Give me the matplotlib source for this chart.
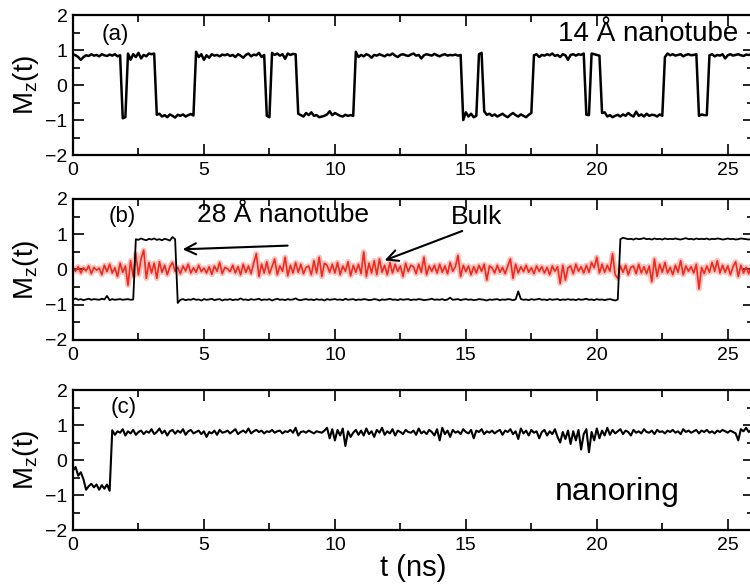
import matplotlib.pyplot as plt
from matplotlib.ticker import MultipleLocator
import numpy as np

plt.rcParams['font.family'] = ['Liberation Sans', 'DejaVu Sans']

dt = 0.1  # sampling step (ns)

# (a) 14 A nanotube, one row per ns
mz_a = [
    0.88, 0.85, 0.80, 0.72, 0.80, 0.85, 0.83, 0.88, 0.84, 0.86,
    0.82, 0.88, 0.85, 0.83, 0.87, 0.84, 0.88, 0.82, 0.85, -0.95,
    -0.92, 0.90, 0.72, 0.88, 0.80, 0.92, 0.76, 0.86, 0.82, 0.90,
    0.88, 0.90, -0.85, -0.82, -0.90, -0.86, -0.92, -0.84, -0.88, -0.93,
    -0.85, -0.88, -0.84, -0.90, -0.86, -0.83, -0.87, 0.95, 0.80, 0.88,
    0.72, 0.85, 0.78, 0.88, 0.84, 0.86, 0.82, 0.87, 0.85, 0.88,
    0.83, 0.86, 0.80, 0.88, 0.84, 0.78, 0.86, 0.90, 0.82, 0.87,
    0.85, 0.92, 0.80, 0.86, -0.88, -0.92, 0.92, 0.86, 0.90, 0.84,
    0.88, 0.75, 0.90, 0.86, 0.89, 0.88, -0.82, -0.86, -0.90, -0.80,
    -0.86, -0.78, -0.88, -0.86, -0.92, -0.90, -0.88, -0.84, -0.75, -0.86,
    -0.80, -0.84, -0.88, -0.90, -0.85, -0.88, -0.86, -0.88, 0.95, 0.80,
    0.86, 0.82, 0.88, 0.85, 0.78, 0.86, 0.84, 0.88, 0.85, 0.82,
    0.87, 0.85, 0.90, 0.84, 0.80, 0.86, 0.88, 0.85, 0.83, 0.87,
    0.90, 0.84, 0.86, 0.76, 0.85, 0.88, 0.86, 0.84, 0.89, 0.85,
    0.82, 0.86, 0.88, 0.84, 0.86, 0.85, 0.87, 0.84, 0.86, -1.00,
    -0.78, -0.90, -0.82, -0.92, -0.88, 0.88, 0.92, -0.75, -0.85, -0.82,
    -0.88, -0.84, -0.90, -0.86, -0.82, -0.88, -0.92, -0.85, -0.80, -0.86,
    -0.90, -0.84, -0.88, -0.92, -0.85, -0.80, 0.85, 0.88, 0.80, 0.86,
    0.84, 0.88, 0.85, 0.90, 0.83, 0.86, 0.80, 0.88, 0.85, 0.72,
    0.86, 0.88, 0.84, 0.88, 0.86, 0.90, -0.85, -0.86, 0.90, 0.88,
    0.86, 0.84, -0.80, -0.78, -0.90, -0.86, -0.92, -0.88, -0.85, -0.90,
    -0.84, -0.88, -0.80, -0.86, -0.90, -0.76, -0.88, -0.84, -0.90, -0.82,
    -0.88, -0.85, -0.86, -0.90, -0.84, -0.88, 0.80, 0.90, 0.85, 0.88,
    0.84, 0.86, 0.88, 0.82, 0.86, 0.88, 0.85, 0.86, 0.88, -0.88,
    -0.84, -0.86, -0.86, 0.85, 0.88, 0.82, 0.86, 0.84, 0.88, 0.76,
    0.85, 0.88, 0.84, 0.86, 0.88, 0.85, 0.83, 0.87, 0.86, 0.88,
    0.90,
]

# (b) 28 A nanotube
mz_b_tube = [
    -0.85, -0.82, -0.86, -0.84, -0.87, -0.85, -0.83, -0.86, -0.84, -0.85,
    -0.86, -0.83, -0.85, -0.75, -0.87, -0.84, -0.86, -0.85, -0.84, -0.86,
    -0.85, -0.84, -0.86, -0.85, 0.86, 0.84, 0.88, 0.85, 0.83, 0.87,
    0.85, 0.88, 0.84, 0.86, 0.83, 0.87, 0.85, 0.82, 0.92, 0.86,
    -0.95, -0.86, -0.84, -0.87, -0.85, -0.86, -0.83, -0.86, -0.85, -0.88,
    -0.84, -0.86, -0.85, -0.83, -0.87, -0.85, -0.84, -0.88, -0.85, -0.86,
    -0.84, -0.87, -0.85, -0.86, -0.82, -0.86, -0.85, -0.87, -0.84, -0.86,
    -0.85, -0.83, -0.87, -0.85, -0.86, -0.84, -0.88, -0.85, -0.83, -0.86,
    -0.85, -0.87, -0.84, -0.86, -0.85, -0.82, -0.86, -0.87, -0.85, -0.84,
    -0.86, -0.85, -0.87, -0.84, -0.86, -0.85, -0.88, -0.84, -0.86, -0.85,
    -0.84, -0.86, -0.85, -0.87, -0.83, -0.86, -0.85, -0.84, -0.87, -0.85,
    -0.86, -0.84, -0.85, -0.87, -0.86, -0.84, -0.85, -0.88, -0.85, -0.86,
    -0.85, -0.83, -0.86, -0.85, -0.87, -0.84, -0.86, -0.85, -0.84, -0.87,
    -0.85, -0.86, -0.84, -0.85, -0.87, -0.86, -0.85, -0.83, -0.86, -0.85,
    -0.86, -0.84, -0.87, -0.85, -0.80, -0.86, -0.85, -0.84, -0.87, -0.85,
    -0.84, -0.86, -0.85, -0.87, -0.86, -0.84, -0.85, -0.86, -0.88, -0.85,
    -0.86, -0.85, -0.84, -0.87, -0.85, -0.86, -0.84, -0.85, -0.87, -0.85,
    -0.62, -0.84, -0.86, -0.85, -0.87, -0.84, -0.86, -0.85, -0.83, -0.86,
    -0.85, -0.87, -0.84, -0.86, -0.85, -0.84, -0.87, -0.85, -0.86, -0.84,
    -0.86, -0.85, -0.87, -0.84, -0.86, -0.85, -0.83, -0.86, -0.85, -0.87,
    -0.84, -0.86, -0.85, -0.87, -0.85, -0.84, -0.86, -0.88, -0.85, 0.86,
    0.90, 0.88, 0.86, 0.87, 0.85, 0.88, 0.86, 0.87, 0.89, 0.86,
    0.87, 0.85, 0.88, 0.86, 0.87, 0.85, 0.88, 0.86, 0.87, 0.86,
    0.88, 0.86, 0.85, 0.87, 0.89, 0.86, 0.87, 0.85, 0.88, 0.86,
    0.87, 0.86, 0.88, 0.85, 0.87, 0.86, 0.88, 0.87, 0.85, 0.86,
    0.88, 0.86, 0.87, 0.85, 0.86, 0.88, 0.87, 0.86, 0.85, 0.87,
    0.86,
]

# (b) bulk
mz_b_bulk = [
    0.02, -0.05, 0.08, -0.10, 0.05, -0.04, 0.10, -0.12, 0.06, -0.02,
    0.04, -0.15, 0.12, -0.06, 0.15, -0.10, 0.05, -0.20, 0.18, -0.08,
    0.10, -0.45, 0.25, -0.20, 0.45, -0.15, 0.30, 0.55, -0.25, 0.20,
    -0.10, 0.18, -0.25, 0.22, -0.08, 0.12, -0.15, 0.08, 0.20, -0.05,
    0.06, -0.12, 0.10, -0.04, 0.15, -0.10, 0.05, -0.08, 0.12, -0.06,
    0.04, -0.10, 0.08, -0.14, 0.10, -0.05, 0.20, -0.12, 0.06, 0.02,
    -0.06, 0.12, -0.10, 0.08, -0.15, 0.15, -0.08, 0.10, -0.12, 0.18,
    0.45, -0.20, 0.15, -0.10, 0.22, -0.12, 0.08, 0.30, -0.15, 0.10,
    -0.05, 0.35, -0.18, 0.12, -0.10, 0.20, -0.08, 0.15, -0.12, 0.06,
    0.10, -0.15, 0.25, -0.10, 0.35, -0.20, 0.18, 0.12, -0.08, 0.15,
    -0.10, 0.20, -0.15, 0.10, -0.05, 0.22, -0.18, 0.12, -0.08, 0.15,
    -0.12, 0.50, -0.20, 0.18, -0.10, 0.25, -0.15, 0.30, -0.08, 0.12,
    -0.15, 0.20, -0.10, 0.15, -0.05, 0.10, -0.20, 0.18, -0.06, 0.12,
    0.08, -0.12, 0.15, -0.08, 0.35, -0.15, 0.10, -0.05, 0.12, -0.10,
    0.15, -0.08, 0.10, -0.12, 0.20, -0.05, 0.08, 0.40, -0.20, 0.12,
    -0.06, 0.10, -0.15, 0.08, -0.10, 0.12, -0.05, 0.15, -0.30, 0.10,
    0.05, -0.10, 0.12, -0.08, 0.06, -0.12, 0.10, 0.30, -0.25, 0.15,
    -0.10, 0.08, -0.06, 0.12, -0.08, 0.05, -0.12, 0.10, -0.05, 0.08,
    -0.10, 0.06, -0.15, 0.10, -0.05, 0.08, -0.40, 0.12, -0.30, 0.05,
    0.10, -0.12, 0.15, -0.05, 0.08, -0.10, 0.12, -0.08, 0.20, 0.05,
    0.35, -0.10, 0.15, -0.08, 0.12, -0.05, 0.45, -0.15, -0.25, 0.10,
    -0.08, 0.12, -0.15, 0.06, 0.10, -0.12, 0.15, -0.10, 0.08, -0.12,
    0.10, -0.35, 0.30, -0.20, 0.15, -0.08, 0.20, -0.10, 0.06, -0.15,
    0.12, -0.08, 0.25, -0.15, 0.10, -0.05, 0.08, -0.10, 0.15, -0.55,
    0.06, -0.12, 0.10, -0.08, 0.20, -0.05, 0.25, -0.10, 0.12, -0.08,
    0.10, -0.15, 0.08, 0.22, -0.20, 0.12, -0.10, 0.06, -0.12, 0.08,
    0.02,
]

# (c) nanoring
mz_c = [
    -0.30, -0.20, -0.45, -0.35, -0.55, -0.85, -0.75, -0.68, -0.78, -0.70,
    -0.85, -0.72, -0.82, -0.70, -0.88, 0.85, 0.72, 0.82, 0.78, 0.88,
    0.70, 0.82, 0.76, 0.86, 0.72, 0.80, 0.84, 0.74, 0.82, 0.78,
    0.88, 0.74, 0.80, 0.90, 0.76, 0.84, 0.70, 0.82, 0.86, 0.75,
    0.84, 0.78, 0.88, 0.72, 0.82, 0.86, 0.76, 0.80, 0.84, 0.74,
    0.82, 0.66, 0.80, 0.76, 0.84, 0.72, 0.86, 0.78, 0.80, 0.84,
    0.76, 0.82, 0.88, 0.74, 0.80, 0.84, 0.78, 0.90, 0.76, 0.82,
    0.86, 0.80, 0.84, 0.76, 0.82, 0.80, 0.86, 0.78, 0.82, 0.84,
    0.76, 0.82, 0.80, 0.86, 0.78, 0.92, 0.70, 0.80, 0.82, 0.78,
    0.84, 0.80, 0.76, 0.82, 0.80, 0.78, 0.84, 0.92, 0.62, 0.88,
    0.56, 0.86, 0.70, 0.90, 0.40, 0.82, 0.66, 0.78, 0.86, 0.72,
    0.84, 0.70, 0.90, 0.74, 0.82, 0.66, 0.86, 0.78, 0.92, 0.72,
    0.82, 0.76, 0.88, 0.70, 0.84, 0.80, 0.74, 0.86, 0.80, 0.78,
    0.84, 0.72, 0.90, 0.76, 0.82, 0.74, 0.86, 0.80, 0.70, 0.88,
    0.56, 0.92, 0.74, 0.84, 0.66, 0.86, 0.78, 0.82, 0.74, 0.88,
    0.80, 0.76, 0.86, 0.62, 0.84, 0.80, 0.88, 0.74, 0.82, 0.78,
    0.84, 0.76, 0.82, 0.86, 0.72, 0.84, 0.80, 0.88, 0.74, 0.82,
    0.60, 0.90, 0.76, 0.84, 0.70, 0.86, 0.78, 0.82, 0.62, 0.80,
    0.86, 0.70, 0.82, 0.74, 0.88, 0.66, 0.50, 0.80, 0.60, 0.84,
    0.46, 0.82, 0.56, 0.86, 0.30, 0.74, 0.88, 0.22, 0.80, 0.56,
    0.90, 0.62, 0.84, 0.70, 0.92, 0.72, 0.86, 0.76, 0.82, 0.88,
    0.74, 0.84, 0.80, 0.70, 0.86, 0.78, 0.82, 0.76, 0.88, 0.80,
    0.78, 0.84, 0.74, 0.86, 0.80, 0.82, 0.76, 0.84, 0.80, 0.86,
    0.78, 0.82, 0.74, 0.88, 0.80, 0.84, 0.78, 0.82, 0.86, 0.76,
    0.84, 0.80, 0.86, 0.78, 0.82, 0.76, 0.84, 0.80, 0.86, 0.82,
    0.78, 0.84, 0.80, 0.76, 0.56, 0.88, 0.82, 0.92, 0.80, 0.86,
    0.84,
]

def times(vals):
    return np.arange(len(vals)) * dt

fig = plt.figure(figsize=(7.5, 5.87), dpi=100)
# [left, bottom, width, height]; right spine sits just past the canvas edge
ax_a = fig.add_axes([0.0973, 0.7359, 0.908, 0.2385])
ax_b = fig.add_axes([0.0973, 0.4208, 0.908, 0.2402])
ax_c = fig.add_axes([0.0973, 0.0971, 0.908, 0.2385])

for ax in (ax_a, ax_b, ax_c):
    ax.set_xlim(0, 26)
    ax.set_ylim(-2, 2)
    ax.xaxis.set_major_locator(MultipleLocator(5))
    ax.xaxis.set_minor_locator(MultipleLocator(2.5))
    ax.yaxis.set_major_locator(MultipleLocator(1))
    ax.yaxis.set_minor_locator(MultipleLocator(0.5))
    ax.tick_params(which='both', direction='in', top=True, right=True,
                   width=1.2, labelsize=14)
    ax.tick_params(which='major', length=8)
    ax.tick_params(which='minor', length=5)
    ax.tick_params(axis='x', pad=5)
    ax.tick_params(axis='y', pad=4)
    for s in ax.spines.values():
        s.set_linewidth(1.6)
    ax.set_ylabel(r'M$_\mathregular{z}$(t)', fontsize=20, labelpad=3)

ax_a.plot(times(mz_a), mz_a, color='black', lw=1.8)
ax_a.text(1.6, 1.45, '(a)', fontsize=16, ha='center', va='center')
ax_a.text(18.5, 1.45, '14 Å nanotube', fontsize=20, ha='left', va='center')

ax_b.plot(times(mz_b_bulk), mz_b_bulk, color='#f03a2a', lw=4.0, alpha=0.3)
ax_b.plot(times(mz_b_bulk), mz_b_bulk, color='#ee2a1e', lw=1.2)
ax_b.plot(times(mz_b_tube), mz_b_tube, color='black', lw=1.3)
ax_b.text(1.9, 1.5, '(b)', fontsize=16, ha='center', va='center')
ax_b.text(8.0, 1.55, '28 Å nanotube', fontsize=19, ha='center', va='center')
ax_b.annotate('', xy=(4.08, 0.57), xytext=(8.3, 0.68),
              arrowprops=dict(arrowstyle='->', lw=1.5, color='black',
                              mutation_scale=20))
ax_b.text(15.4, 1.5, 'Bulk', fontsize=19, ha='center', va='center')
ax_b.annotate('', xy=(11.8, 0.23), xytext=(14.96, 1.12),
              arrowprops=dict(arrowstyle='->', lw=1.5, color='black',
                              mutation_scale=20))

ax_c.plot(times(mz_c), mz_c, color='black', lw=1.5)
ax_c.text(1.95, 1.5, '(c)', fontsize=16, ha='center', va='center')
ax_c.text(20.8, -0.9, 'nanoring', fontsize=23, ha='center', va='center')
ax_c.set_xlabel('t (ns)', fontsize=21, labelpad=0)

fig.savefig('out.png', dpi=100)
